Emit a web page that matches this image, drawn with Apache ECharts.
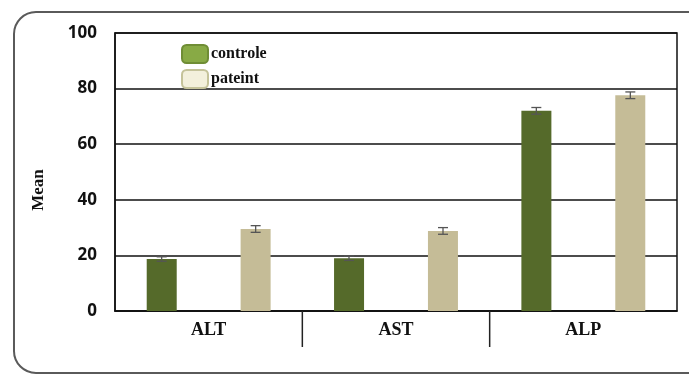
<!DOCTYPE html>
<html><head><meta charset="utf-8">
<script src="https://cdn.jsdelivr.net/npm/echarts@6/dist/echarts.min.js"></script>
<style>html,body{margin:0;padding:0;background:#fff}#c{width:689px;height:377px}</style>
</head><body><div id="c"></div>
<script>
var categories = ['ALT', 'AST', 'ALP'];
var controle = [18.7, 19.0, 72.0];
var pateint = [29.5, 28.8, 77.6];
var controleErr = [0.8, 0.8, 1.2];
var pateintErr = [1.2, 1.2, 1.2];
var yTicks = [0, 20, 40, 60, 80, 100];

var chart = echarts.init(document.getElementById('c'));
var serif = '"Liberation Serif", "Times New Roman", serif';

function errData(vals, errs) {
  return vals.map(function (v, i) { return [i, v - errs[i], v + errs[i]]; });
}
function errRender(offset) {
  return function (params, api) {
    var x = api.value(0);
    var lo = api.coord([x, api.value(1)]);
    var hi = api.coord([x, api.value(2)]);
    var cx = lo[0] + offset;
    var st = { stroke: '#555', lineWidth: 1.3 };
    return { type: 'group', children: [
      { type: 'line', shape: { x1: cx, y1: lo[1], x2: cx, y2: hi[1] }, style: st },
      { type: 'line', shape: { x1: cx - 5, y1: lo[1], x2: cx + 5, y2: lo[1] }, style: st },
      { type: 'line', shape: { x1: cx - 5, y1: hi[1], x2: cx + 5, y2: hi[1] }, style: st }
    ]};
  };
}

chart.setOption({
  animation: false,
  backgroundColor: '#fff',
  graphic: [{
    type: 'rect', shape: { x: 14, y: 12, width: 700, height: 361, r: 22 },
    style: { fill: 'none', stroke: '#5a5a5a', lineWidth: 2 }, z: -1
  }],
  grid: { left: 115, right: 12, top: 33, bottom: 66, show: true, borderColor: '#111', borderWidth: 1.5 },
  legend: {
    orient: 'vertical', left: 176, top: 39, itemWidth: 26, itemHeight: 18, itemGap: 5, itemStyle: {},
    textStyle: { fontFamily: serif, fontWeight: 'bold', fontSize: 16, color: '#111', padding: [0, 0, 0, -2] },
    data: [
      { name: 'controle', icon: 'roundRect', itemStyle: { color: '#88aa45', borderColor: '#6f8d35', borderWidth: 2 } },
      { name: 'pateint', icon: 'roundRect', itemStyle: { color: '#f3f0dc', borderColor: '#c5c39a', borderWidth: 2 } }
    ]
  },
  xAxis: {
    type: 'category', data: categories,
    axisLine: { lineStyle: { color: '#111', width: 1.5 } },
    axisTick: { show: false },
    axisLabel: { fontFamily: serif, fontWeight: 'bold', fontSize: 18, color: '#111', margin: 10 }
  },
  yAxis: {
    type: 'value', min: 0, max: 100, interval: 20,
    name: 'Mean', nameLocation: 'middle', nameGap: 68, nameRotate: 90,
    nameTextStyle: { fontFamily: serif, fontWeight: 'bold', fontSize: 17, color: '#111', padding: [0, 36, 0, 0] },
    axisLine: { show: true, lineStyle: { color: '#111', width: 1.5 } },
    axisTick: { show: false },
    splitLine: { lineStyle: { color: '#111', width: 1.5 } },
    axisLabel: { fontFamily: '"Open Sans", sans-serif', fontWeight: 'bold', fontSize: 17, color: '#111', margin: 18,
      formatter: function (v) { return yTicks.indexOf(v) >= 0 ? String(v) : ''; } }
  },
  series: [
    { name: 'controle', type: 'bar', data: controle, barWidth: 30, barGap: '213%', itemStyle: { color: '#556a2a' } },
    { name: 'pateint', type: 'bar', data: pateint, barWidth: 30, itemStyle: { color: '#c5bc97' } },
    { type: 'custom', data: errData(controle, controleErr), renderItem: errRender(-47), z: 10, silent: true },
    { type: 'custom', data: errData(pateint, pateintErr), renderItem: errRender(47), z: 10, silent: true },
    { type: 'custom', data: [0, 1], silent: true, clip: false,
      renderItem: function (params, api) {
        var i = api.value(0);
        var a = api.coord([i, 0]);
        var b = api.coord([i + 1, 0]);
        var x = (a[0] + b[0]) / 2;
        return { type: 'line', shape: { x1: x, y1: a[1], x2: x, y2: a[1] + 36 }, style: { stroke: '#222', lineWidth: 1.5 } };
      }
    }
  ]
});
</script></body></html>
